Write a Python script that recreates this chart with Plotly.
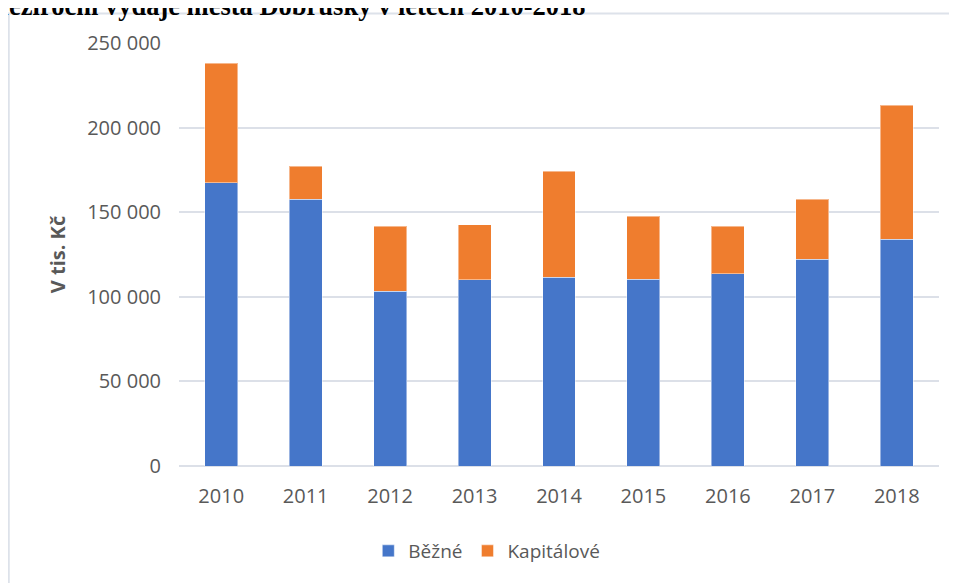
import plotly.graph_objects as go

# data (thousands CZK)
years = ["2010", "2011", "2012", "2013", "2014", "2015", "2016", "2017", "2018"]
bezne = [167400, 157600, 103200, 110100, 111500, 110500, 113600, 122100, 133900]
kapitalove = [70700, 19700, 38400, 32500, 62800, 37200, 28000, 35500, 79400]
y_ticks = [0, 50000, 100000, 150000, 200000, 250000]

grey = "#595959"
font_main = "Open Sans, Liberation Sans, sans-serif"

fig = go.Figure()
fig.add_trace(go.Bar(
    name="Běžné", x=years, y=bezne,
    marker=dict(color="#4576C9", line=dict(color="rgba(255,255,255,0.45)", width=1)),
))
fig.add_trace(go.Bar(
    name="Kapitálové", x=years, y=kapitalove,
    marker=dict(color="#EF7D2E", line=dict(color="rgba(255,255,255,0.45)", width=1)),
))

# the page body adds an 8px margin, so margins are set with that in mind
fig.update_layout(
    barmode="stack",
    bargap=0.61,
    width=957, height=583,
    margin=dict(l=171, r=26, t=35, b=125),
    paper_bgcolor="white", plot_bgcolor="white",
    separators=", ",
    font=dict(family=font_main, size=20, color=grey),
    showlegend=True,
    legend=dict(orientation="h", x=0.405, xanchor="center", y=-0.201, yanchor="middle",
                font=dict(size=19, color=grey), traceorder="normal",
                itemwidth=30),
    xaxis=dict(showgrid=False, showline=False, ticks="", ticklabelstandoff=16,
               tickfont=dict(size=20, color=grey)),
    yaxis=dict(range=[0, 250000], tickvals=y_ticks, tickformat=",d",
               showgrid=True, gridcolor="#DCE0E8", gridwidth=2,
               zeroline=True, zerolinecolor="#DCE0E8", zerolinewidth=2,
               ticks="", ticklabelstandoff=17, tickfont=dict(size=20, color=grey),
               title=dict(text="<b>V tis. Kč</b>", font=dict(size=20, color=grey), standoff=16)),
    shapes=[dict(type="rect", xref="paper", yref="paper",
                 x0=-0.224, x1=1.1, y0=-0.35, y1=1.07,
                 line=dict(color="#DDE2EA", width=2), layer="below")],
    annotations=[dict(text="<b>Meziroční výdaje města Dobrušky v letech 2010-2018</b>",
                      xref="paper", yref="paper", x=-0.259, y=1.047,
                      xanchor="left", yanchor="bottom", showarrow=False,
                      font=dict(family="Liberation Serif, Times New Roman, serif", size=26.5, color="black"))],
)

fig.write_html("out.html")
